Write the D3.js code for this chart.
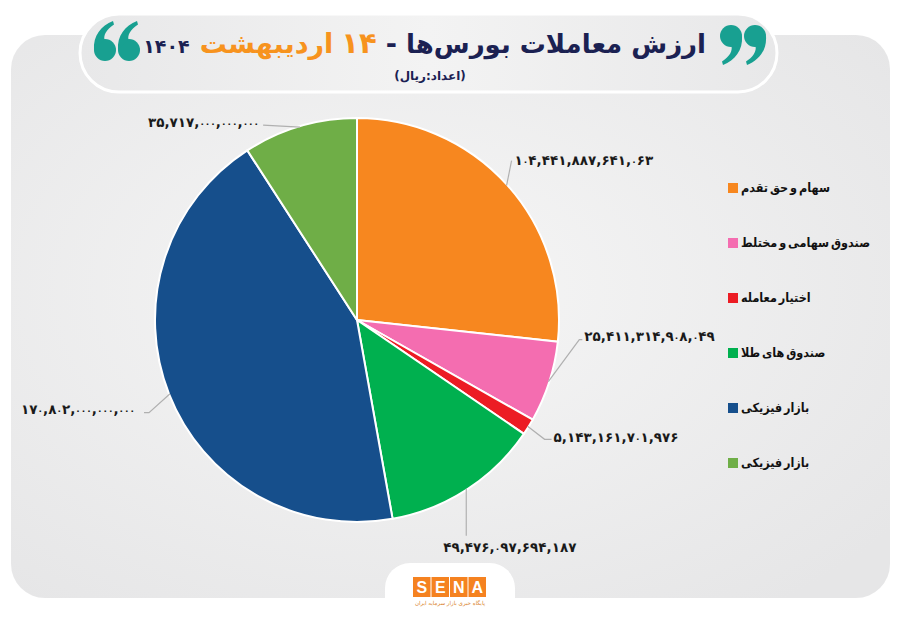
<!DOCTYPE html>
<html><head><meta charset="utf-8">
<script src="https://cdn.jsdelivr.net/npm/d3@7"></script>
<style>html,body{margin:0;padding:0;background:#fff;}svg{display:block;}</style>
</head><body>
<svg id="c" width="900" height="623"></svg>
<script>
// ---- data ----
const categories = ["سهام و حق تقدم","صندوق سهامی و مختلط","اختیار معامله","صندوق های طلا","بازار فیزیکی","بازار فیزیکی"];
const values = [104441887641063, 25411314908049, 5143161701976, 49476097694187, 170802000000000, 35717000000000];
const colors = ["#f7871f","#f46db0","#ec1c24","#00b04f","#164f8c","#6fae47"];
const titleMain = "ارزش معاملات بورس‌ها";
const titleDay = "۱۴";
const titleMonth = "اردیبهشت";
const titleYear = "۱۴۰۴";
const subtitle = "(اعداد:ریال)";

// ---- layout (not data) ----
const W = 900, H = 623;
const cx = 357, cy = 320, R = 202;
const labelLayout = [
  {elbow:[5,-25], end:[5,-25], anchor:"start", tdx:3, tdy:0},
  {elbow:[31,-42], end:[34,-42], anchor:"start", tdx:2, tdy:-3},
  {elbow:[17,13], end:[24,13], anchor:"start", tdx:2, tdy:-2},
  {elbow:[0,47], end:[0,47], anchor:"start", tdx:-23, tdy:12},
  {elbow:[-21,19], end:[-26,19], anchor:"end", tdx:-9, tdy:-3},
  {elbow:[-37,-2], end:[-37,-2], anchor:"end", tdx:-4, tdy:-3}
];

const faDigits = "۰۱۲۳۴۵۶۷۸۹";
const toFa = s => s.replace(/[0-9]/g, d => faDigits[+d]);
const fmt = v => toFa(d3.format(",d")(v));

const svg = d3.select("#c");
const defs = svg.append("defs");
const rg = defs.append("radialGradient").attr("id","bg").attr("cx","45%").attr("cy","45%").attr("r","70%");
rg.append("stop").attr("offset","0%").attr("stop-color","#f6f6f6");
rg.append("stop").attr("offset","100%").attr("stop-color","#e6e6e7");
const pg = defs.append("linearGradient").attr("id","pill").attr("x1","0").attr("x2","1");
pg.append("stop").attr("offset","0%").attr("stop-color","#e8e8e9");
pg.append("stop").attr("offset","50%").attr("stop-color","#f3f3f3");
pg.append("stop").attr("offset","100%").attr("stop-color","#e8e8e9");

svg.append("rect").attr("width",W).attr("height",H).attr("fill","#fff");
svg.append("rect").attr("x",11).attr("y",35).attr("width",879).attr("height",563).attr("rx",34).attr("fill","url(#bg)");

svg.append("rect").attr("x",80).attr("y",14).attr("width",697).attr("height",78).attr("rx",39)
  .attr("fill","url(#pill)").attr("stroke","#ffffff").attr("stroke-width",3);

const FONT = "'DejaVu Sans', sans-serif";
const CFONT = "'DejaVu Sans Condensed', 'DejaVu Sans', sans-serif";
const pieces = [
  {t:titleMain, c:"#1b2152", s:26, g:9, f:FONT},
  {t:"-", c:"#1b2152", s:27, g:9, f:FONT},
  {t:titleDay, c:"#f7931e", s:29, g:8, f:FONT},
  {t:titleMonth, c:"#f7931e", s:27, g:10, f:FONT},
  {t:titleYear, c:"#1b2152", s:19, g:0, f:FONT}
];
let xr = 706;
const tg = svg.append("g");
pieces.forEach((p) => {
  const t = tg.append("text").attr("x",xr).attr("y",53).attr("text-anchor","end")
    .attr("font-family",p.f).attr("font-weight","bold").attr("font-size",p.s).attr("fill",p.c).text(p.t);
  const w = t.node().getComputedTextLength();
  xr -= w + p.g;
});
svg.append("text").attr("x",430).attr("y",80).attr("text-anchor","middle").attr("font-family",FONT)
  .attr("font-weight","bold").attr("font-size",12).attr("fill","#1b2152").text(subtitle);

const teal = "#18a091";
function quote9(x,y,rot){
  const g = svg.append("g").attr("transform",`translate(${x},${y}) rotate(${rot})`);
  g.append("circle").attr("r",11).attr("fill",teal);
  g.append("path").attr("d","M11,0 C12,14.5 4,24 -8,29 L-9,25.5 C-1,20.5 1.5,14.5 0.5,10.5 Z").attr("fill",teal);
}
quote9(755,36,0); quote9(731,36,0);
quote9(105,50,180); quote9(129,50,180);

// pie
const pie = d3.pie().sort(null).value(d => d)(values);
const arc = d3.arc().innerRadius(0).outerRadius(R);
const pg2 = svg.append("g").attr("transform",`translate(${cx},${cy})`);
pg2.selectAll("path.s").data(pie).join("path").attr("class","s")
  .attr("d",arc).attr("fill",(d,i)=>colors[i]).attr("stroke","#fff").attr("stroke-width",2);

const onArc = d3.arc().innerRadius(R-1).outerRadius(R-1);
pie.forEach((d,i) => {
  const [ax,ay] = onArc.centroid(d);
  const L = labelLayout[i];
  const p0 = [ax,ay], p1 = [ax+L.elbow[0], ay+L.elbow[1]], p2 = [ax+L.end[0], ay+L.end[1]];
  pg2.append("polyline").attr("points",[p0,p1,p2].map(p=>p.join(",")).join(" "))
    .attr("fill","none").attr("stroke","#b0b0b0").attr("stroke-width",1.2);
  const t = pg2.append("text").attr("x",p2[0]+L.tdx).attr("y",p2[1]+L.tdy).attr("dy","0.35em")
    .attr("text-anchor",L.anchor).attr("font-family",FONT).attr("font-weight","bold")
    .attr("font-size",13.5).attr("fill","#1a1a1a");
  const s = fmt(values[i]);
  const runs = s.match(/۰+|[^۰]+/g);
  runs.forEach(r => {
    const ts = t.append("tspan").text(r);
    if (r[0] === "۰") ts.attr("font-size",9);
  });
});

// legend
const lg = svg.append("g").attr("transform","translate(728,188)");
categories.forEach((c,i) => {
  const g = lg.append("g").attr("transform",`translate(0,${i*55})`);
  g.append("rect").attr("x",0).attr("y",-5).attr("width",10).attr("height",10).attr("fill",colors[i]);
  g.append("text").attr("x",13).attr("y",0).attr("dy","0.35em").attr("text-anchor","start")
    .attr("font-family",CFONT).attr("font-weight","bold").attr("font-size",12.5)
    .attr("word-spacing","-2").attr("fill","#111").text(c);
});

// SENA logo
const lgo = svg.append("g");
lgo.append("rect").attr("x",385).attr("y",563).attr("width",130).attr("height",60).attr("rx",25).attr("fill","#fff");
lgo.append("rect").attr("x",385).attr("y",598).attr("width",130).attr("height",25).attr("fill","#fff");
["S","E","N","A"].forEach((ch,i) => {
  lgo.append("rect").attr("x",413+i*18.5).attr("y",577).attr("width",17.5).attr("height",20).attr("fill","#f58220");
  lgo.append("text").attr("x",413+i*18.5+8.75).attr("y",593).attr("text-anchor","middle")
    .attr("font-family","'Liberation Sans', sans-serif").attr("font-weight","bold").attr("font-size",16).attr("fill","#fff").text(ch);
});
lgo.append("text").attr("x",450).attr("y",605).attr("text-anchor","middle").attr("font-family",FONT)
  .attr("font-size",5.5).attr("fill","#d9822b").text("پایگاه خبری بازار سرمایه ایران");
</script>
</body></html>
